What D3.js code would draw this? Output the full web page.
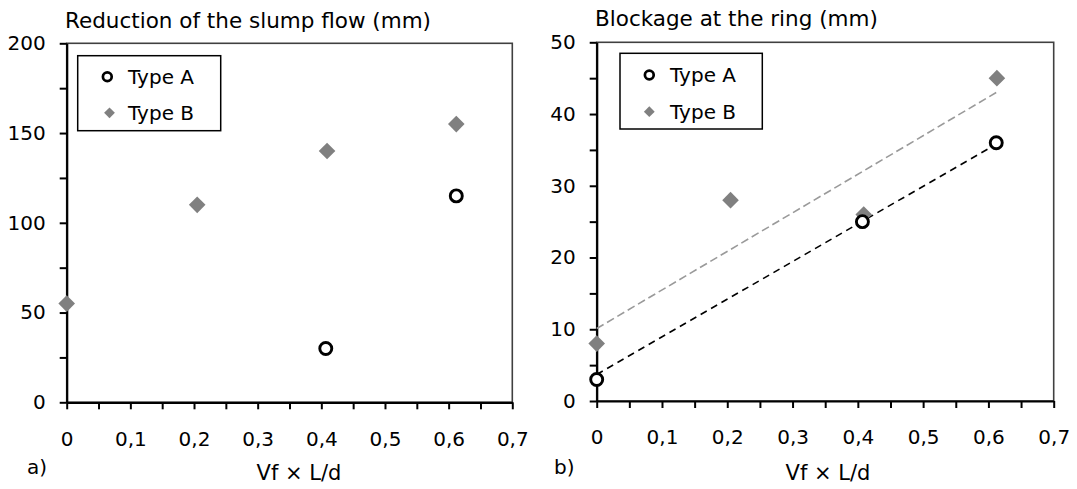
<!DOCTYPE html>
<html>
<head>
<meta charset="utf-8">
<script src="https://cdn.jsdelivr.net/npm/d3@7"></script>
<style>
  html, body { margin: 0; padding: 0; background: #fff; }
  svg { display: block; }
  text { font-family: "DejaVu Sans", Verdana, sans-serif; fill: #000; }
</style>
</head>
<body>
<script>
// ---------- data ----------
const seriesNames = ["Type A", "Type B"];

// Panel a) Reduction of the slump flow (mm)
const slumpAx = [0.407, 0.612];
const slumpAy = [30, 115];
const slumpBx = [0, 0.205, 0.409, 0.612];
const slumpBy = [55, 110, 140, 155];

// Panel b) Blockage at the ring (mm)
const ringAx = [0, 0.407, 0.612];
const ringAy = [3, 25, 36];
const ringBx = [0, 0.205, 0.409, 0.613];
const ringBy = [8, 28, 26, 45];

// trend lines: [x, y] endpoints
const ringTrendA = [[0, 3.7], [0.612, 35.8]];
const ringTrendB = [[0, 10.1], [0.612, 43.0]];

// ticks
const xTickLabels = ["0", "0,1", "0,2", "0,3", "0,4", "0,5", "0,6", "0,7"];
const yTickLabelsA = ["0", "50", "100", "150", "200"];
const yTickLabelsB = ["0", "10", "20", "30", "40", "50"];

const titles = ["Reduction of the slump flow (mm)", "Blockage at the ring (mm)"];
const xAxisTitle = "Vf \u00d7 L/d";
const panelTags = ["a)", "b)"];

// ---------- drawing ----------
const W = 1077, H = 489;
const svg = d3.select("body").append("svg").attr("width", W).attr("height", H);
svg.append("rect").attr("width", W).attr("height", H).attr("fill", "#fff");

const fontTick = 20;

function drawPanel(cfg) {
  const x = d3.scaleLinear().domain([0, 0.7]).range([cfg.x0, cfg.x1]);
  const y = d3.scaleLinear().domain([0, cfg.yMax]).range([cfg.y0, cfg.y1]);
  const g = svg.append("g");

  // frame (top / right)
  g.append("rect")
    .attr("x", cfg.x0).attr("y", cfg.y1)
    .attr("width", cfg.x1 - cfg.x0).attr("height", cfg.y0 - cfg.y1)
    .attr("fill", "none").attr("stroke", "#404040").attr("stroke-width", 1.6);

  // x axis
  const xTicks = d3.range(0, 15).map(i => i * 0.05);
  const xAxis = d3.axisBottom(x)
    .tickValues(xTicks)
    .tickSize(7).tickSizeOuter(0).tickPadding(cfg.xPad)
    .tickFormat(d => {
      const k = d * 10;
      return Math.abs(k - Math.round(k)) < 1e-6 ? xTickLabels[Math.round(k)] : "";
    });
  const gx = g.append("g").attr("transform", `translate(0,${cfg.y0})`).call(xAxis);

  // y axis
  const yTicks = d3.range(0, 2 * (cfg.yLabels.length - 1) + 1).map(i => i * cfg.yStep / 2);
  const yAxis = d3.axisLeft(y)
    .tickValues(yTicks)
    .tickSize(7).tickSizeOuter(0).tickPadding(14)
    .tickFormat((d, i) => i % 2 === 0 ? cfg.yLabels[i / 2] : "");
  const gy = g.append("g").attr("transform", `translate(${cfg.x0},0)`).call(yAxis);

  [gx, gy].forEach(a => {
    a.selectAll("path.domain").attr("stroke", "#000").attr("stroke-width", 2.2);
    a.selectAll(".tick line").attr("stroke", "#000").attr("stroke-width", 2);
    a.selectAll(".tick text")
      .style("font-family", '"DejaVu Sans", Verdana, sans-serif')
      .style("font-size", fontTick + "px").attr("fill", "#000");
  });

  // trend lines
  if (cfg.trendB) {
    g.append("path")
      .attr("d", d3.line().x(d => x(d[0])).y(d => y(d[1]))(cfg.trendB))
      .attr("fill", "none").attr("stroke", "#9a9a9a").attr("stroke-width", 1.6)
      .attr("stroke-dasharray", "8,4");
  }
  if (cfg.trendA) {
    g.append("path")
      .attr("d", d3.line().x(d => x(d[0])).y(d => y(d[1]))(cfg.trendA))
      .attr("fill", "none").attr("stroke", "#000").attr("stroke-width", 1.6)
      .attr("stroke-dasharray", "7,5");
  }

  // Type B diamonds
  const diamond = s => `M0,${-s}L${s},0L0,${s}L${-s},0Z`;
  g.selectAll(null).data(cfg.bx.map((v, i) => [v, cfg.by[i]])).enter()
    .append("path")
    .attr("transform", d => `translate(${x(d[0])},${y(d[1])})`)
    .attr("d", diamond(8.3))
    .attr("fill", "#808080");

  // Type A circles
  g.selectAll(null).data(cfg.ax.map((v, i) => [v, cfg.ay[i]])).enter()
    .append("circle")
    .attr("cx", d => x(d[0])).attr("cy", d => y(d[1]))
    .attr("r", 6)
    .attr("fill", "#fff").attr("stroke", "#000").attr("stroke-width", 2.9);

  // legend
  const L = cfg.legend;
  g.append("rect").attr("x", L.x).attr("y", L.y).attr("width", L.w).attr("height", L.h)
    .attr("fill", "#fff").attr("stroke", "#000").attr("stroke-width", 1.5);
  g.append("circle").attr("cx", L.mx).attr("cy", L.yA).attr("r", 4.4)
    .attr("fill", "#fff").attr("stroke", "#000").attr("stroke-width", 2.7);
  g.append("path").attr("transform", `translate(${L.dx},${L.yB})`)
    .attr("d", diamond(5.4)).attr("fill", "#808080");
  g.append("text").attr("x", L.tx).attr("y", L.yA + 7.3)
    .style("font-size", "20px").text(seriesNames[0]);
  g.append("text").attr("x", L.tx).attr("y", L.yB + 7.3)
    .style("font-size", "20px").text(seriesNames[1]);

  // titles / labels
  g.append("text").attr("x", cfg.titleX).attr("y", cfg.titleY)
    .style("font-size", "21.5px").text(cfg.title);
  g.append("text").attr("x", cfg.xlabX).attr("y", 480).attr("text-anchor", "middle")
    .style("font-size", "21px").text(xAxisTitle);
  g.append("text").attr("x", cfg.tagX).attr("y", 474)
    .style("font-size", "20px").text(cfg.tag);
}

drawPanel({
  x0: 66.7, x1: 512.3, y0: 402.3, y1: 43.3, yMax: 200, yStep: 50,
  yLabels: yTickLabelsA, xPad: 23,
  ax: slumpAx, ay: slumpAy, bx: slumpBx, by: slumpBy,
  legend: { x: 77.7, y: 55.7, w: 143, h: 75, mx: 107.3, dx: 109.5, tx: 128, yA: 76.7, yB: 112.8 },
  title: titles[0], titleX: 65, titleY: 27.5, xlabX: 299, tag: panelTags[0], tagX: 27
});

drawPanel({
  x0: 596.7, x1: 1053.7, y0: 401, y1: 42.3, yMax: 50, yStep: 10,
  yLabels: yTickLabelsB, xPad: 21.5,
  ax: ringAx, ay: ringAy, bx: ringBx, by: ringBy,
  trendA: ringTrendA, trendB: ringTrendB,
  legend: { x: 620, y: 53.3, w: 142.3, h: 75.7, mx: 649.3, dx: 649.3, tx: 670, yA: 75, yB: 111.7 },
  title: titles[1], titleX: 595, titleY: 25.5, xlabX: 828, tag: panelTags[1], tagX: 554
});
</script>
</body>
</html>
